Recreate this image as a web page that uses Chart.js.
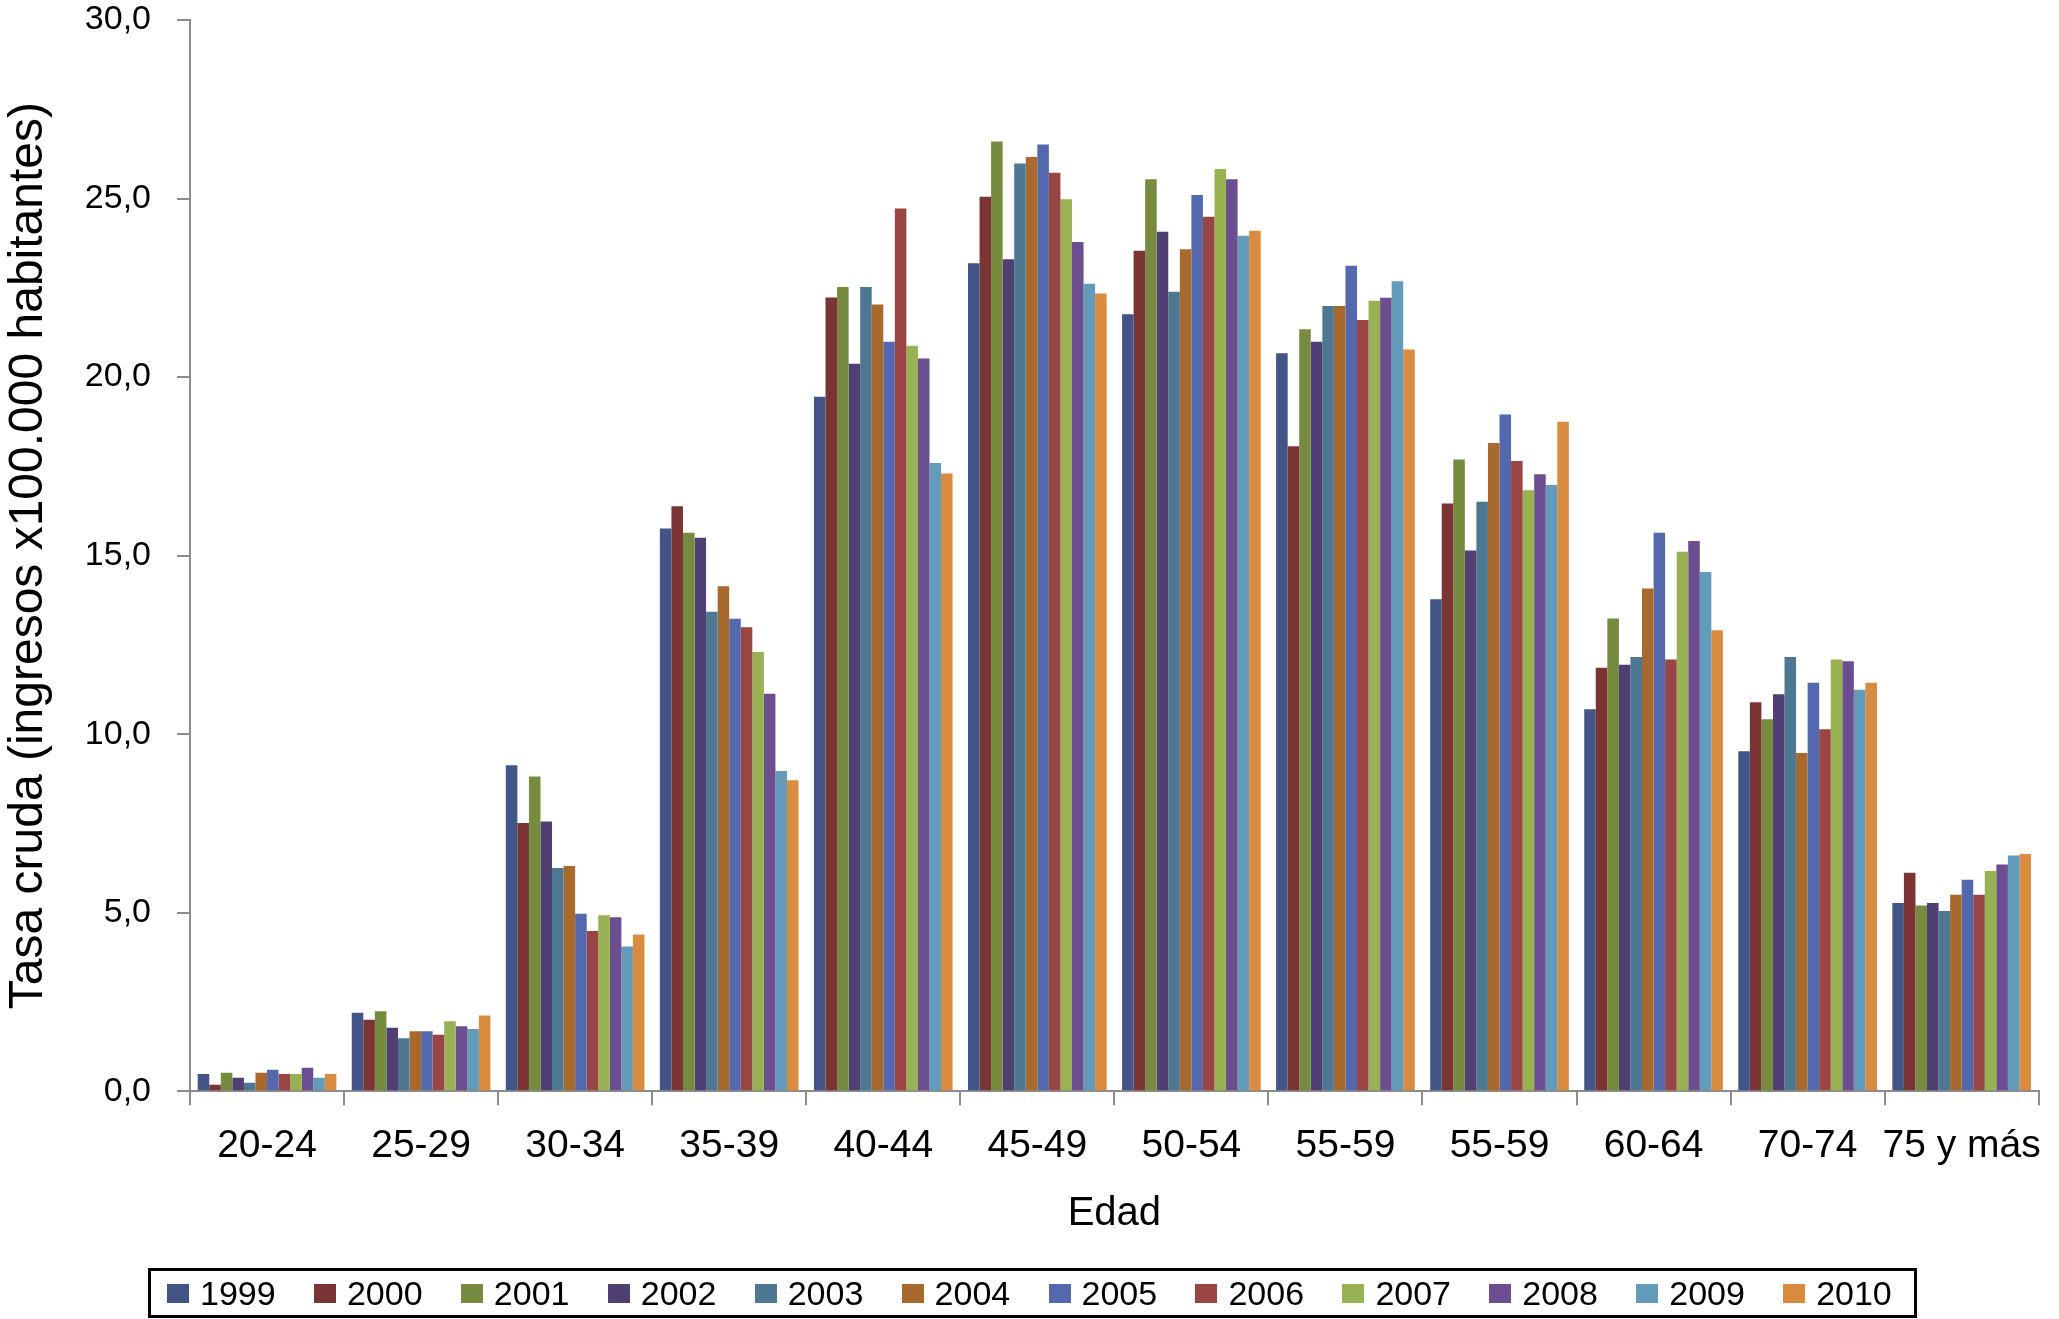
<!DOCTYPE html>
<html>
<head>
<meta charset="utf-8">
<script src="https://cdn.jsdelivr.net/npm/chart.js@4.4.1/dist/chart.umd.min.js"></script>
<style>
    html, body { margin: 0; padding: 0; background: #ffffff; }
    #wrap { position: relative; width: 2059px; height: 1319px; }
    #tasa-chart { display: block; }
    #legend {
        position: absolute; left: 148px; top: 1268px;
        width: 1769px; height: 50px; box-sizing: border-box;
        border: 3px solid #000; display: flex; align-items: center;
        font-family: 'Liberation Sans', Arial, sans-serif; font-size: 34px; color: #000;
    }
    #legend .item { width: 147px; display: flex; align-items: center; padding-left: 16px; box-sizing: border-box; }
    #legend .swatch { width: 22px; height: 19px; margin-right: 11px; }
</style>
</head>
<body>
<div id="wrap">
    <canvas id="tasa-chart" width="2059" height="1319"></canvas>
    <div id="legend"></div>
</div>
<script>
const ageGroups = ['20-24', '25-29', '30-34', '35-39', '40-44', '45-49', '50-54', '55-59', '55-59', '60-64', '70-74', '75 y más'];
const years = ['1999', '2000', '2001', '2002', '2003', '2004', '2005', '2006', '2007', '2008', '2009', '2010'];
const yearColors = ['#435587', '#7b3434', '#768a40', '#503f73', '#4e7892', '#a8692f',
                    '#5468ad', '#984544', '#97b153', '#6a4e8f', '#649bba', '#d98b40'];
const yTicks = [0, 5, 10, 15, 20, 25, 30];

const rate1999 = [0.48, 2.20, 9.13, 15.76, 19.45, 23.19, 21.76, 20.67, 13.78, 10.70, 9.52, 5.27];
const rate2000 = [0.18, 2.00, 7.51, 16.38, 22.23, 25.05, 23.54, 18.06, 16.46, 11.86, 10.89, 6.12];
const rate2001 = [0.52, 2.24, 8.81, 15.64, 22.52, 26.60, 25.54, 21.34, 17.69, 13.24, 10.42, 5.20];
const rate2002 = [0.38, 1.78, 7.55, 15.50, 20.37, 23.30, 24.07, 20.99, 15.14, 11.94, 11.12, 5.27];
const rate2003 = [0.24, 1.48, 6.25, 13.43, 22.52, 25.98, 22.39, 21.99, 16.51, 12.16, 12.16, 5.05];
const rate2004 = [0.52, 1.68, 6.31, 14.14, 22.03, 26.16, 23.58, 21.99, 18.15, 14.08, 9.47, 5.50];
const rate2005 = [0.60, 1.68, 4.97, 13.23, 20.99, 26.51, 25.10, 23.12, 18.95, 15.64, 11.44, 5.92];
const rate2006 = [0.48, 1.58, 4.49, 12.99, 24.72, 25.72, 24.49, 21.60, 17.65, 12.09, 10.14, 5.50];
const rate2007 = [0.48, 1.96, 4.93, 12.30, 20.88, 24.98, 25.83, 22.14, 16.83, 15.11, 12.09, 6.17];
const rate2008 = [0.66, 1.82, 4.87, 11.13, 20.52, 23.78, 25.54, 22.22, 17.28, 15.41, 12.04, 6.35];
const rate2009 = [0.38, 1.74, 4.05, 8.97, 17.59, 22.61, 23.96, 22.68, 16.98, 14.54, 11.24, 6.60];
const rate2010 = [0.48, 2.12, 4.39, 8.71, 17.30, 22.34, 24.10, 20.77, 18.75, 12.91, 11.44, 6.64];

const seriesByYear = [rate1999, rate2000, rate2001, rate2002, rate2003, rate2004,
                      rate2005, rate2006, rate2007, rate2008, rate2009, rate2010];

const fontFamily = "'Liberation Sans', Arial, sans-serif";
const axisGray = '#8c8c8c';

document.addEventListener('DOMContentLoaded', function() {
    initTasaChart();
    buildLegend();
});

function initTasaChart() {
    const ctx = document.getElementById('tasa-chart').getContext('2d');

    const datasets = years.map((year, i) => ({
        label: year,
        data: seriesByYear[i],
        backgroundColor: yearColors[i],
        borderWidth: 0,
        barPercentage: 1.0,
        categoryPercentage: 0.9
    }));

    new Chart(ctx, {
        type: 'bar',
        data: {
            labels: ageGroups,
            datasets: datasets
        },
        options: {
            responsive: false,
            animation: false,
            layout: {
                padding: { top: 20, right: 5, bottom: 81, left: 0 }
            },
            scales: {
                x: {
                    grid: {
                        offset: true,
                        drawOnChartArea: false,
                        drawTicks: true,
                        tickLength: 14,
                        color: axisGray,
                        lineWidth: 2
                    },
                    border: { color: axisGray, width: 2 },
                    ticks: {
                        color: '#000',
                        padding: 18,
                        maxRotation: 0,
                        autoSkip: false,
                        font: { family: fontFamily, size: 39 }
                    },
                    title: {
                        display: true,
                        text: 'Edad',
                        color: '#000',
                        padding: { top: 2, bottom: 0 },
                        font: { family: fontFamily, size: 40 }
                    }
                },
                y: {
                    min: 0,
                    max: 30,
                    afterFit: function(scale) {
                        scale.width = 190;
                        scale.paddingTop = 0;
                        scale.paddingBottom = 0;
                    },
                    afterBuildTicks: function(scale) {
                        scale.ticks = yTicks.map(v => ({ value: v }));
                    },
                    grid: {
                        drawOnChartArea: false,
                        drawTicks: true,
                        tickLength: 13,
                        color: axisGray,
                        lineWidth: 2
                    },
                    border: { color: axisGray, width: 2 },
                    ticks: {
                        color: '#000',
                        padding: 26,
                        font: { family: fontFamily, size: 34 },
                        callback: function(value) {
                            return Number(value).toFixed(1).replace('.', ',');
                        }
                    },
                    title: {
                        display: true,
                        text: 'Tasa cruda (ingresos x100.000 habitantes)',
                        color: '#000',
                        padding: { top: 0, bottom: 0 },
                        font: { family: fontFamily, size: 48 }
                    }
                }
            },
            plugins: {
                legend: { display: false },
                tooltip: { enabled: false }
            }
        }
    });
}

function buildLegend() {
    const legend = document.getElementById('legend');
    years.forEach((year, i) => {
        const item = document.createElement('div');
        item.className = 'item';
        const swatch = document.createElement('span');
        swatch.className = 'swatch';
        swatch.style.background = yearColors[i];
        const label = document.createElement('span');
        label.textContent = year;
        item.appendChild(swatch);
        item.appendChild(label);
        legend.appendChild(item);
    });
}
</script>
</body>
</html>
